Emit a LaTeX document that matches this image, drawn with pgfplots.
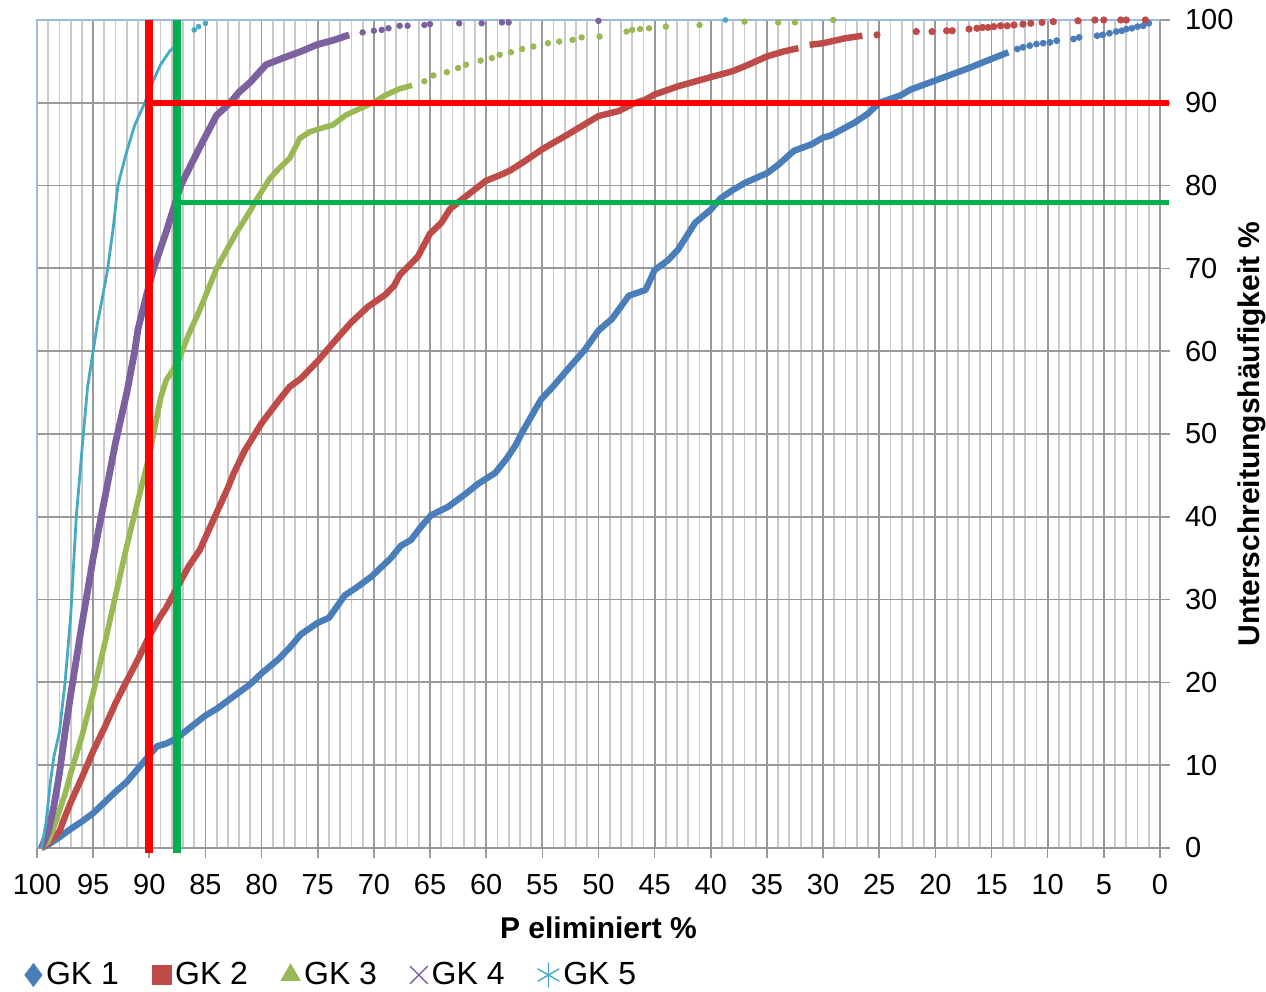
\documentclass[border=0pt]{standalone}
\usepackage{fontspec}
\setmainfont{Liberation Sans}
\usepackage{pgfplots}
\pgfplotsset{compat=1.18}
\usetikzlibrary{plotmarks}
\definecolor{gkA}{HTML}{4A7EBB}
\definecolor{gkB}{HTML}{BE4B48}
\definecolor{gkC}{HTML}{98B954}
\definecolor{gkD}{HTML}{7D60A0}
\definecolor{gkE}{HTML}{46AAC5}
\definecolor{refred}{HTML}{FF0000}
\definecolor{refgreen}{HTML}{00B050}
\definecolor{frameblue}{HTML}{9DB9DC}
\begin{document}
\begin{tikzpicture}
\useasboundingbox (-18.5pt,-72pt) rectangle (614.5pt,424pt);
\begin{axis}[
  at={(0,0)}, anchor=south west,
  scale only axis, width=561.5pt, height=414pt,
  xmin=0, xmax=100, ymin=0, ymax=100, x dir=reverse,
  xtick={0,5,...,100}, ytick={0,10,...,100},
  minor x tick num=4,
  grid=both,
  major grid style={black!40, line width=0.9pt},
  minor grid style={black!21, line width=0.9pt},
  axis line style={draw=none},
  tick align=outside,
  major tick length=5pt, minor tick length=0pt,
  tick style={black!40, line width=0.8pt},
  xtick pos=bottom, ytick pos=right,
  yticklabel pos=right,
  /pgf/number format/assume math mode=true,
  ticklabel style={font=\fontsize{14.5}{17}\selectfont},
  xticklabel style={yshift=-4.5pt},
  yticklabel style={anchor=west, xshift=4pt},
  xlabel={P eliminiert \%},
  ylabel={Unterschreitungshäufigkeit \%},
  every axis x label/.style={at={(axis description cs:0.5,-0.0966)}, anchor=center, font=\fontsize{15}{18}\selectfont\bfseries},
  every axis y label/.style={at={(axis description cs:1.0820,0.5)}, anchor=center, rotate=90, font=\fontsize{15}{18}\selectfont\bfseries},
  legend columns=5,
  legend style={at={(axis description cs:-0.0165,-0.1534)}, anchor=west, draw=none, fill=none,
    font=\fontsize{16}{19}\selectfont,
    /tikz/every even column/.append style={column sep=14.5pt}},
  legend image code/.code={\draw[#1] plot coordinates {(0pt,0pt)};},
  clip=false,
]
\addlegendimage{only marks, mark=diamond*, mark size=5.2pt, mark options={scale=1.1}, color=gkA}
\addlegendentry{GK 1}
\addlegendimage{only marks, mark=square*, mark size=4.8pt, color=gkB}
\addlegendentry{GK 2}
\addlegendimage{only marks, mark=triangle*, mark size=5.5pt, color=gkC}
\addlegendentry{GK 3}
\addlegendimage{only marks, mark=x, mark size=5pt, mark options={scale=1.25}, line width=0.7pt, color=gkD}
\addlegendentry{GK 4}
\addlegendimage{only marks, mark=asterisk, mark size=5pt, mark options={scale=1.25}, line width=0.7pt, color=gkE}
\addlegendentry{GK 5}

\draw[frameblue, line width=1pt] (axis description cs:0,0) -- (axis description cs:0,1) -- (axis description cs:1,1);
\draw[black!40, line width=1pt] (axis description cs:0,0) -- (axis description cs:1,0);

% GK 1
\addplot[gkA, line width=3.2pt, line join=round, forget plot] coordinates {
(99.6,0) (99,0.4) (98,1.3) (97,2.3) (96,3.2) (95,4.2) (94,5.5) (93,6.8) (92,8) (91,9.6) (90,11.2) (89.3,12.3) (88.5,12.6) (87.5,13.3) (86.5,14.4) (85,16) (84,16.8) (82.5,18.3) (81,19.8) (80,21.1) (78.5,22.8) (77.5,24.2) (76.5,25.8) (75,27.2) (74,27.8) (72.6,30.5) (71.5,31.5) (70.2,32.8) (68.5,35) (67.6,36.5) (66.7,37.2) (65.8,38.8) (64.9,40.2) (63.4,41.2) (62,42.6) (60.7,44) (59.2,45.3) (58.2,47) (57.4,48.6) (56.8,50.2) (55.1,54.2) (54,55.8) (53,57.4) (51.2,60.2) (50,62.5) (48.8,63.9) (47.3,66.7) (45.8,67.4) (45,69.8) (43.8,71) (42.9,72.3) (41.4,75.5) (40,77.1) (39.1,78.5) (38,79.5) (37,80.3) (35,81.5) (34,82.5) (32.6,84.2) (31,85) (30,85.8) (29.4,86) (27.2,87.6) (26,88.7) (25,90) (23.1,90.9) (22.2,91.6) (20,92.7) (17.2,94.1) (15,95.3) (13.5,96.1)
};
\addplot[gkA, only marks, mark=*, mark size=1.5pt, forget plot] coordinates {
(12.7,96.5) (12.2,96.7) (11.6,96.9) (11,97.1) (10.4,97.2) (9.8,97.3) (9.2,97.5) (7.7,97.7) (7.2,97.9) (5.6,98.1) (5.1,98.2) (4.5,98.4) (3.9,98.6) (3.4,98.7) (3,98.9) (2.5,99) (2,99.2) (1.5,99.3) (1,99.6)
};
% GK 2
\addplot[gkB, line width=3.2pt, line join=round, forget plot] coordinates {
(99.6,0) (99,0.6) (98,2) (97.5,3.8) (97,5.5) (96,8.5) (95,11.7) (94,14.5) (93,17.5) (92,20.2) (91,22.8) (90,25.6) (89,28) (88.5,29) (87.5,31.5) (86.5,34) (85.5,36) (85,37.5) (84,40.5) (83,43.5) (82.5,45.2) (81.5,48) (80,51.3) (78.5,54) (77.5,55.7) (76.5,56.7) (75,58.8) (73.5,61.2) (72,63.5) (70.5,65.4) (69,66.8) (68.2,67.9) (67.7,69.2) (66.1,71.4) (65,74.2) (64,75.5) (63.2,77.2) (62,78.5) (60,80.6) (58.7,81.3) (57.9,81.8) (56.5,83) (55,84.4) (52.7,86.2) (50,88.4) (48.2,89) (46.9,89.9) (45.8,90.4) (45,91) (42.9,92) (40,93.1) (38.1,93.8) (37,94.4) (35,95.6) (33.5,96.2) (32.2,96.6)
};
\addplot[gkB, line width=3.2pt, line join=round, forget plot] coordinates {
(31.2,97) (30,97.2) (29,97.5) (28,97.8) (27,98) (26.5,98.1)
};
\addplot[gkB, only marks, mark=*, mark size=1.6pt, forget plot] coordinates {
(25.2,98.2) (21.7,98.6) (20.3,98.6) (19,98.7) (18.5,98.7) (17,98.9) (16.3,99) (15.8,99.1) (15.3,99.1) (14.8,99.2) (14.2,99.3) (13.6,99.3) (13,99.4) (12.2,99.5) (11.5,99.6) (10.5,99.7) (9.5,99.8) (7.3,99.9) (5.8,100) (5,100) (3.5,100) (3,100) (1.3,100)
};
% GK 3
\addplot[gkC, line width=2.8pt, line join=round, forget plot] coordinates {
(99.6,0) (99,0.8) (98.5,2.5) (98,4.5) (97.5,6.5) (97,9) (96,13.5) (95,18.7) (94,24.5) (93,30.5) (92.5,33.5) (92,36.5) (91,42) (90,47.4) (89,54.3) (88.5,56.5) (87.5,58.5) (86.5,62) (85.5,65) (84,70) (83,72.5) (82.2,74.4) (81,77) (80.4,78.4) (79.3,80.8) (78.5,82) (77.5,83.3) (76.6,85.7) (75.7,86.5) (74.5,87) (73.7,87.3) (72.5,88.5) (71.9,88.9) (70.1,90) (69,90.9) (67.7,91.7) (66.6,92.1)
};
\addplot[gkC, only marks, mark=*, mark size=1.4pt, forget plot] coordinates {
(65.5,92.6) (64.7,93.3) (63.5,93.7) (62.5,94.2) (61.8,94.6) (60.5,95.1) (59.5,95.4) (58.8,95.8) (57.8,96.1) (56.8,96.5) (55.8,96.8) (54.5,97.2) (53.5,97.4) (52.3,97.6) (51.5,97.9) (49.9,98) (47.5,98.6) (47,98.8) (46.3,98.9) (45.5,99) (44,99.2) (41,99.4) (37,99.8) (34,99.7) (32.5,99.7) (29.1,100)
};
% GK 4
\addplot[gkD, line width=3.4pt, line join=round, forget plot] coordinates {
(99.6,0) (99,2) (98.5,5) (98,9) (97.5,14) (97,18.5) (96,27) (95,35) (94,42) (93,49) (92.5,52) (92,55) (91.3,60) (91,62.7) (90.3,66.5) (89.6,70) (88.5,74.4) (87.2,80) (86.3,82.5) (85.4,84.9) (84,88.5) (82.8,90) (82,91.3) (81,92.5) (79.6,94.6) (78.1,95.4) (76.5,96.2) (75.1,97) (73.5,97.6) (72.2,98.2)
};
\addplot[gkD, only marks, mark=*, mark size=1.4pt, forget plot] coordinates {
(71,98.5) (70,98.7) (69.3,98.8) (68.7,99) (67.7,99.3) (67,99.3) (65.5,99.4) (65,99.5) (62.4,99.6) (60.4,99.6) (58.6,99.7) (58,99.7) (50,99.9)
};
% GK 5
\addplot[gkE, line width=1.4pt, line join=round, forget plot] coordinates {
(99.6,0) (99.2,3) (98.8,8) (98.5,11) (98,14) (97.5,20) (97,28) (96.5,40) (96,48) (95.5,55.6) (95,60) (94.6,63.5) (94.1,67) (93.7,70) (93.2,75) (92.8,80) (92.1,83.7) (91.3,87.3) (90.4,90) (89.7,92.5) (89,94.6) (88.2,96.2) (87.6,97)
};
\addplot[gkE, only marks, mark=*, mark size=1.2pt, forget plot] coordinates {
(86,98.8) (85.6,99.2) (85,99.6) (38.7,100)
};

% reference lines
\addplot[refred, line width=4pt, forget plot] coordinates {(90,100) (90,-0.6)};
\addplot[refgreen, line width=4pt, forget plot] coordinates {(87.5,100) (87.5,-0.6)};
\addplot[refred, line width=3pt, forget plot] coordinates {(90,90) (-0.8,90)};
\addplot[refgreen, line width=2.5pt, forget plot] coordinates {(87.5,78) (-0.8,78)};
\end{axis}
\end{tikzpicture}
\end{document}
